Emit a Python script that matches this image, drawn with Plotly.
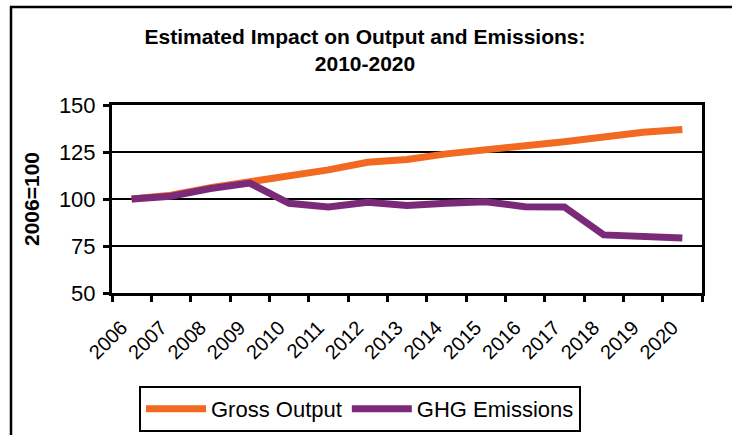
import plotly.graph_objects as go

# Index values, 2006 = 100
years = [str(y) for y in range(2006, 2021)]
gross_output = [100, 102, 106, 109, 112.5, 115.5, 119.5, 121, 124, 126, 128, 130.5, 133, 135.5, 137]
ghg_emissions = [100, 101.5, 105.5, 108.5, 97.7, 95.8, 98.2, 96.5, 97.8, 98.5, 95.9, 95.8, 80.9, 80.4, 79.2]

ORANGE = "#F26A21"
PURPLE = "#7B2979"
FONT = "Liberation Sans, Arial, sans-serif"

W, H = 732, 435
ML, MR, MT, MB = 112, 30, 105, 142
PW, PH = W - ML - MR, H - MT - MB


def px_x(x):
    return (x - ML) / PW


def px_y(y):
    return (H - MB - y) / PH


fig = go.Figure()
fig.add_trace(go.Scatter(
    x=years, y=gross_output, name="Gross Output", mode="lines",
    line=dict(color=ORANGE, width=7),
))
fig.add_trace(go.Scatter(
    x=years, y=ghg_emissions, name="GHG Emissions", mode="lines",
    line=dict(color=PURPLE, width=7),
))

fig.update_layout(
    width=W, height=H,
    margin=dict(l=ML, r=MR, t=MT, b=MB, autoexpand=False),
    paper_bgcolor="white", plot_bgcolor="white",
    font=dict(family=FONT, color="black", size=19),
    title=dict(
        text="<b>Estimated Impact on Output and Emissions:<br>2010-2020</b>",
        x=px_x(365), xref="paper", xanchor="center",
        y=1 - 44 / H, yanchor="top",
        font=dict(size=21, family=FONT),
    ),
    showlegend=True,
    legend=dict(
        orientation="h",
        x=px_x(139), y=px_y(386), xref="paper", yref="paper",
        xanchor="left", yanchor="top",
        bordercolor="black", borderwidth=2,
        font=dict(size=22, family=FONT),
        itemwidth=60,
        traceorder="normal",
    ),
    shapes=[dict(
        type="rect", xref="paper", yref="paper",
        x0=px_x(11), x1=px_x(745), y0=px_y(7), y1=px_y(450),
        line=dict(color="black", width=2.5), fillcolor="rgba(0,0,0,0)",
        layer="below",
    )],
)

fig.update_xaxes(
    type="category", range=[-0.5, len(years) - 0.5], automargin=False,
    tickson="boundaries", ticks="outside", ticklen=6, tickwidth=2.5, tickcolor="black",
    showline=True, linecolor="black", linewidth=3, mirror=True,
    showgrid=False, tickangle=-45, tickfont=dict(size=20, family=FONT),
    ticklabelstandoff=12, ticklabelshift=-10,
)
fig.update_yaxes(
    range=[50, 150], tickvals=[50, 75, 100, 125, 150], automargin=False,
    ticks="outside", ticklen=6, tickwidth=2.5, tickcolor="black",
    showline=True, linecolor="black", linewidth=3, mirror=True,
    showgrid=True, gridcolor="black", gridwidth=2, zeroline=False,
    tickfont=dict(size=22, family=FONT), ticklabelstandoff=3,
    title=dict(text="<b>2006=100</b>", font=dict(size=21, family=FONT), standoff=14),
)

fig.write_html("out.html")
